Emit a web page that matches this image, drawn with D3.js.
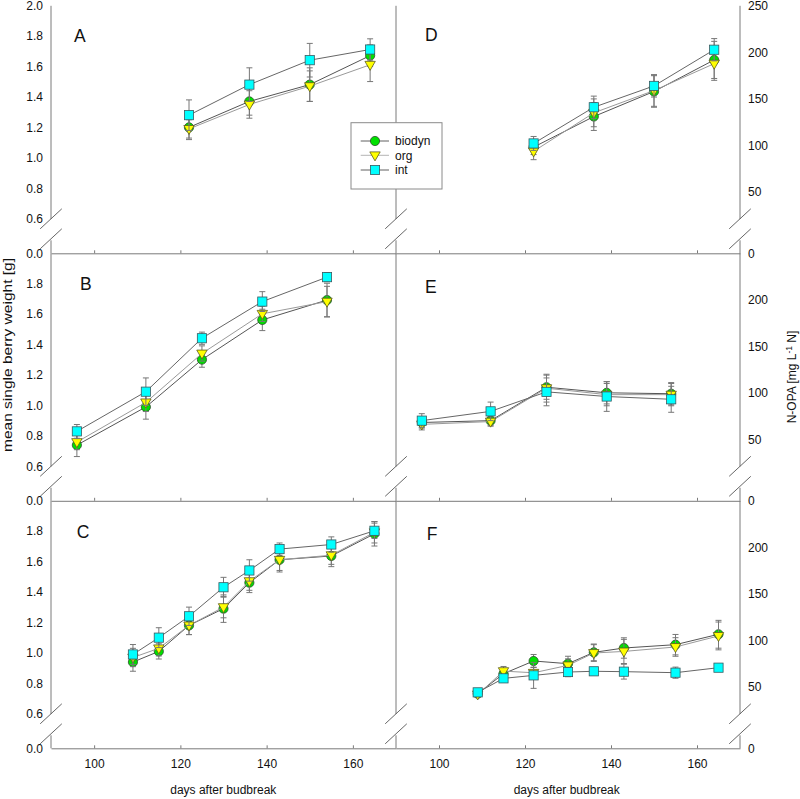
<!DOCTYPE html>
<html><head><meta charset="utf-8">
<script src="https://cdn.jsdelivr.net/npm/d3@7"></script>
<style>
body{margin:0;background:#fff;}
svg{display:block;font-family:Arial,"Liberation Sans",sans-serif;}
</style></head>
<body><svg id="c" width="800" height="799"></svg>
<script>
// ---------------- data ----------------
const seriesNames = ["biodyn", "org", "int"];
const panelLetters = ["A", "B", "C", "D", "E", "F"];
const xTicks = [100, 120, 140, 160];
const leftTicksTop = [0.6, 0.8, 1.0, 1.2, 1.4, 1.6, 1.8, 2.0];
const leftTicks = [0.6, 0.8, 1.0, 1.2, 1.4, 1.6, 1.8];
const rightTicksTop = [50, 100, 150, 200, 250];
const rightTicks = [50, 100, 150, 200];

const days1 = [122, 136, 150, 164];
const days2 = [96, 112, 125, 139, 154];
const days3 = [109, 115, 122, 130, 136, 143, 155, 165];

// berry weight [g]
const A_biodyn = [1.20, 1.37, 1.48, 1.67], A_biodyn_err = [0.08, 0.09, 0.11, 0.07];
const A_org    = [1.19, 1.35, 1.47, 1.61], A_org_err    = [0.06, 0.09, 0.10, 0.11];
const A_int    = [1.28, 1.48, 1.64, 1.71], A_int_err    = [0.10, 0.11, 0.11, 0.07];

const B_biodyn = [0.74, 0.99, 1.30, 1.56, 1.69], B_biodyn_err = [0.075, 0.08, 0.05, 0.07, 0.11];
const B_org    = [0.76, 1.02, 1.34, 1.60, 1.68], B_org_err    = [0.05, 0.06, 0.05, 0.05, 0.10];
const B_int    = [0.83, 1.09, 1.44, 1.68, 1.84], B_int_err    = [0.045, 0.09, 0.04, 0.065, 0.03];

const C_biodyn = [0.94, 1.01, 1.18, 1.29, 1.46, 1.61, 1.635, 1.78], C_biodyn_err = [0.06, 0.05, 0.06, 0.09, 0.065, 0.08, 0.07, 0.08];
const C_org    = [0.97, 1.03, 1.18, 1.30, 1.47, 1.61, 1.64, 1.79],  C_org_err    = [0.06, 0.05, 0.06, 0.07, 0.06, 0.07, 0.06, 0.07];
const C_int    = [0.99, 1.10, 1.24, 1.43, 1.54, 1.68, 1.71, 1.80],  C_int_err    = [0.065, 0.065, 0.06, 0.065, 0.07, 0.04, 0.05, 0.05];

// N-OPA [mg/L N]
const D_biodyn = [98, 131, 158, 192],   D_biodyn_err = [8, 15, 17, 20];
const D_org    = [93.5, 135, 159, 188], D_org_err    = [9, 15, 17, 18];
const D_int    = [102, 141, 164, 203],  D_int_err    = [7.5, 12, 12, 12];

const E_biodyn = [68, 70, 106, 100, 99], E_biodyn_err = [6, 5, 13, 12, 12];
const E_org    = [66, 69, 105, 98, 98],  E_org_err    = [6, 5, 15, 12, 12];
const E_int    = [70, 80, 101, 96, 93],  E_int_err    = [7.5, 10, 15, 16, 14];

const F_biodyn = [42.5, 64, 77.7, 74.8, 87, 91.7, 95.3, 106.5], F_biodyn_err = [3, 5, 7, 8, 9, 11, 11, 15];
const F_org    = [41.7, 66.8, 65, 73, 86.3, 88, 92.8, 104.7],   F_org_err    = [3, 5, 6, 7, 9, 13, 10, 15];
const F_int    = [43.9, 59, 62.2, 65.8, 66.6, 66.2, 65.1, 70.5], F_int_err   = [2, 4, 14, 5, 2, 8, 6, 2];

// ---------------- layout ----------------
const svg = d3.select("#c");
const colX = [[51, 396], [396, 740]];
const rowBottom = i => 253.3 + i * 247.5;
const rowH = 247.5;
const styles = {
  biodyn: {fill: "#00e000", line: "#555555", shape: "circle"},
  org:    {fill: "#ffff00", line: "#9a9a9a", shape: "tri"},
  int:    {fill: "#00ffff", line: "#666666", shape: "square"}
};
const axisColor = "#7a7a7a";

const panels = [
  {col:0,row:0,days:days1,vals:[A_biodyn,A_org,A_int],errs:[A_biodyn_err,A_org_err,A_int_err],lx:74,ly:41.7},
  {col:0,row:1,days:days2,vals:[B_biodyn,B_org,B_int],errs:[B_biodyn_err,B_org_err,B_int_err],lx:80,ly:290},
  {col:0,row:2,days:days3,vals:[C_biodyn,C_org,C_int],errs:[C_biodyn_err,C_org_err,C_int_err],lx:76.7,ly:538.3},
  {col:1,row:0,days:days1,vals:[D_biodyn,D_org,D_int],errs:[D_biodyn_err,D_org_err,D_int_err],lx:425,ly:40.7},
  {col:1,row:1,days:days2,vals:[E_biodyn,E_org,E_int],errs:[E_biodyn_err,E_org_err,E_int_err],lx:425,ly:293.3},
  {col:1,row:2,days:days3,vals:[F_biodyn,F_org,F_int],errs:[F_biodyn_err,F_org_err,F_int_err],lx:426.7,ly:540}
];

function marker(g, shape, cx, cy, fill) {
  if (shape === "circle") {
    g.append("circle").attr("cx", cx).attr("cy", cy).attr("r", 4.6)
      .attr("fill", fill).attr("stroke", "#2d4d2d").attr("stroke-width", 0.8);
  } else if (shape === "square") {
    g.append("rect").attr("x", cx - 4.6).attr("y", cy - 4.6).attr("width", 9.2).attr("height", 9.2)
      .attr("fill", fill).attr("stroke", "#3a5a60").attr("stroke-width", 0.8);
  } else {
    const w = 5.2, h = 9;
    g.append("path").attr("d", `M${cx - w},${cy - h * 0.38}L${cx + w},${cy - h * 0.38}L${cx},${cy + h * 0.62}Z`)
      .attr("fill", fill).attr("stroke", "#5a5a20").attr("stroke-width", 0.8);
  }
}

// axis lines with breaks, for all rows and the three vertical lines
const vx = [51, 396, 740];
for (let r = 0; r < 3; r++) {
  const b = rowBottom(r), top = b - rowH;
  vx.forEach(x => {
    svg.append("line").attr("x1", x).attr("x2", x).attr("y1", top).attr("y2", b - 34.3)
      .attr("stroke", axisColor);
    svg.append("line").attr("x1", x).attr("x2", x).attr("y1", b - 13).attr("y2", b)
      .attr("stroke", axisColor);
    [b - 34.5, b - 14.5].forEach(yc => {
      svg.append("line").attr("x1", x - 10.8).attr("y1", yc + 10).attr("x2", x + 10.8).attr("y2", yc - 10)
        .attr("stroke", "#555").attr("stroke-width", 0.9);
    });
  });
}

panels.forEach((p, pi) => {
  const b = rowBottom(p.row);
  const x = d3.scaleLinear().domain([90, 170]).range(colX[p.col]);
  let y, yLow;
  if (p.col === 0) {
    y = d3.scaleLinear().domain([0.6, 2.0]).range([b - 34.3, b - 34.3 - 1.4 * 152.7]);
    yLow = d3.scaleLinear().domain([0, 0.1]).range([b, b - 13]);
  } else {
    y = d3.scaleLinear().domain([50, 250]).range([b - 61.6, b - 61.6 - 200 * 0.928]);
    yLow = d3.scaleLinear().domain([0, 10]).range([b, b - 13]);
  }
  const g = svg.append("g");

  // x axis
  const xa = d3.axisBottom(x).tickValues(xTicks).tickSizeInner(-3).tickSizeOuter(0).tickPadding(10.7)
    .tickFormat(p.row === 2 ? d3.format("d") : () => "");
  const xg = g.append("g").attr("transform", `translate(0,${b})`).call(xa);
  xg.select(".domain").attr("stroke", axisColor);
  xg.selectAll(".tick line").attr("stroke", axisColor);
  xg.selectAll("text").attr("font-size", 12).attr("fill", "#111").attr("font-family", "Arial, 'Liberation Sans', sans-serif");

  // y axis labels
  if (p.col === 0) {
    const ya = d3.axisLeft(y).tickValues(p.row === 0 ? leftTicksTop : leftTicks).tickSize(0).tickPadding(8).tickFormat(d3.format(".1f"));
    const yg = g.append("g").attr("transform", "translate(51,0)").call(ya);
    yg.select(".domain").remove();
    yg.selectAll("text").attr("font-size", 12).attr("fill", "#111").attr("font-family", "Arial, 'Liberation Sans', sans-serif");
    const yl = d3.axisLeft(yLow).tickValues([0]).tickSize(0).tickPadding(8).tickFormat(d3.format(".1f"));
    const ylg = g.append("g").attr("transform", "translate(51,0)").call(yl);
    ylg.select(".domain").remove();
    ylg.selectAll("text").attr("font-size", 12).attr("fill", "#111").attr("font-family", "Arial, 'Liberation Sans', sans-serif");
  } else {
    const ya = d3.axisRight(y).tickValues(p.row === 0 ? rightTicksTop : rightTicks).tickSize(0).tickPadding(8).tickFormat(d3.format("d"));
    const yg = g.append("g").attr("transform", "translate(740,0)").call(ya);
    yg.select(".domain").remove();
    yg.selectAll("text").attr("font-size", 12).attr("fill", "#111").attr("font-family", "Arial, 'Liberation Sans', sans-serif");
    const yl = d3.axisRight(yLow).tickValues([0]).tickSize(0).tickPadding(8).tickFormat(d3.format("d"));
    const ylg = g.append("g").attr("transform", "translate(740,0)").call(yl);
    ylg.select(".domain").remove();
    ylg.selectAll("text").attr("font-size", 12).attr("fill", "#111").attr("font-family", "Arial, 'Liberation Sans', sans-serif");
  }

  // series
  seriesNames.forEach((name, si) => {
    const st = styles[name];
    const pts = p.days.map((d, k) => ({d, v: p.vals[si][k], e: p.errs[si][k]}));
    const sg = g.append("g");
    sg.append("path").datum(pts)
      .attr("d", d3.line().x(q => x(q.d)).y(q => y(q.v)))
      .attr("fill", "none").attr("stroke", st.line).attr("stroke-width", 1);
    pts.forEach(q => {
      const cx = x(q.d), y1 = y(q.v + q.e), y2 = y(q.v - q.e);
      sg.append("line").attr("x1", cx).attr("x2", cx).attr("y1", y1).attr("y2", y2).attr("stroke", "#777").attr("stroke-width", 1);
      [y1, y2].forEach(yy => sg.append("line").attr("x1", cx - 3).attr("x2", cx + 3).attr("y1", yy).attr("y2", yy).attr("stroke", "#777").attr("stroke-width", 1));
    });
    pts.forEach(q => marker(sg, st.shape, x(q.d), y(q.v), st.fill));
  });

  // panel letter
  g.append("text").attr("x", p.lx).attr("y", p.ly).attr("font-size", 17.5).attr("fill", "#111")
    .text(panelLetters[pi]);
});

// legend
const lg = svg.append("g");
lg.append("rect").attr("x", 351).attr("y", 122.7).attr("width", 91).attr("height", 66.3)
  .attr("fill", "#fff").attr("stroke", "#8a8a8a").attr("stroke-width", 1);
seriesNames.forEach((name, i) => {
  const yy = [141, 155.3, 170][i];
  const st = styles[name];
  lg.append("line").attr("x1", 360.7).attr("x2", 389).attr("y1", yy).attr("y2", yy)
    .attr("stroke", name === "org" ? "#b5b5b5" : "#606060").attr("stroke-width", 1);
  marker(lg, st.shape, 375, yy, st.fill);
  lg.append("text").attr("x", 395).attr("y", yy + 4.3).attr("font-size", 12).attr("fill", "#111").text(name);
});

// axis titles
svg.append("text").attr("transform", "translate(11.5,355) rotate(-90)").attr("text-anchor", "middle")
  .attr("font-size", 12).attr("fill", "#111")
  .attr("textLength", 194).attr("lengthAdjust", "spacingAndGlyphs")
  .text("mean single berry weight [g]");

const rt = svg.append("text").attr("transform", "translate(796,377) rotate(-90)").attr("text-anchor", "middle")
  .attr("font-size", 12).attr("fill", "#111");
rt.append("tspan").text("N-OPA [mg L");
rt.append("tspan").attr("font-size", 8.5).attr("dy", -4.5).text("-1");
rt.append("tspan").attr("dy", 4.5).text(" N]");

svg.append("text").attr("x", 223.3).attr("y", 794).attr("text-anchor", "middle").attr("font-size", 12).attr("fill", "#111").text("days after budbreak");
svg.append("text").attr("x", 566.7).attr("y", 794).attr("text-anchor", "middle").attr("font-size", 12).attr("fill", "#111").text("days after budbreak");
</script>
</body></html>
